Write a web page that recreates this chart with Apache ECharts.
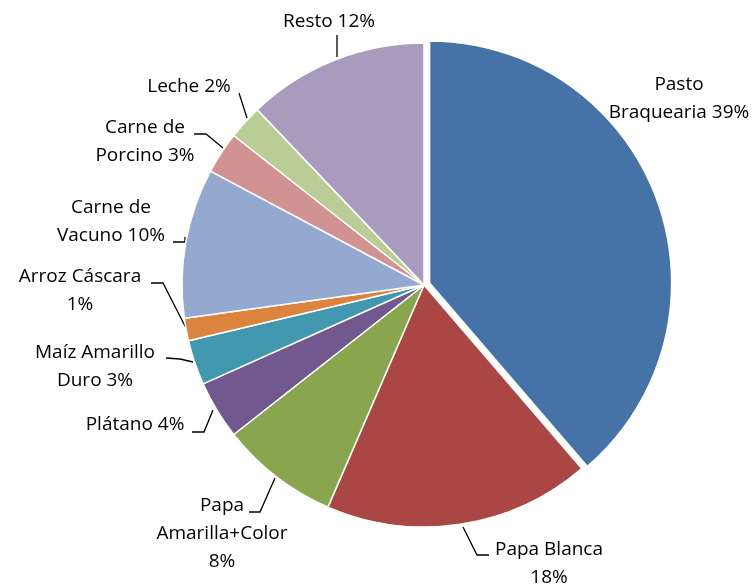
<!DOCTYPE html>
<html><head><meta charset="utf-8">
<script src="https://cdn.jsdelivr.net/npm/echarts@6/dist/echarts.min.js"></script>
<style>html,body{margin:0;padding:0;background:#fff}#c{width:756px;height:585px}</style>
</head><body><div id="c"></div>
<script>
const categories = ['Pasto Braquearia','Papa Blanca','Papa Amarilla+Color','Plátano','Maíz Amarillo Duro','Arroz Cáscara','Carne de Vacuno','Carne de Porcino','Leche','Resto'];
const values = [38.7, 17.8, 7.9, 3.9, 3.0, 1.5, 10.0, 2.8, 2.3, 12.1];
const labelTexts = ['Pasto\nBraquearia 39%','Papa Blanca\n18%','Papa\nAmarilla+Color\n8%','Plátano 4%','Maíz Amarillo\nDuro 3%','Arroz Cáscara\n1%','Carne de\nVacuno 10%','Carne de\nPorcino 3%','Leche 2%','Resto 12%'];
const colors = ['#4572A7','#AA4643','#89A54E','#71588F','#4198AF','#DB843D','#93A9CF','#D19392','#B9CD96','#A99BBD'];
const exploded = 0; // index of the pulled-out slice

// label placement (text centre) and leader-line paths
const layout = [
  {x:679, y:99, line:null},
  {x:549, y:564, line:[[463,527],[477,555],[489,555]]},
  {x:222, y:534, line:[[275,478],[260,512],[249,512]]},
  {x:135, y:425, line:[[213,410],[204,432],[192,432]]},
  {x:95,  y:367, line:[[193,362],[180,359],[166,358]]},
  {x:80,  y:291, line:[[186,328],[163,283],[151,283]]},
  {x:111, y:222, line:[[185,237],[185,242],[173,242]]},
  {x:145, y:142, line:[[223,148],[206,134],[194,134]]},
  {x:189, y:87,  line:[[247,118],[239,93]]},
  {x:329, y:22,  line:[[337,57],[337,35]]}
];

const C = [424, 285], R = 242, OFF = 6;
const total = values.reduce((a,b)=>a+b,0);
const before = values.slice(0, exploded).reduce((a,b)=>a+b,0);
const midDeg = 90 - (before + values[exploded]/2)/total*360;
const C2 = [C[0] + OFF*Math.cos(midDeg*Math.PI/180), C[1] - OFF*Math.sin(midDeg*Math.PI/180)];

const hidden = {color:'rgba(0,0,0,0)', borderWidth:0};
const data1 = categories.map((n,i)=>({
  name:n, value:values[i],
  itemStyle: i===exploded ? hidden : {color:colors[i]},
  label:{formatter: labelTexts[i]},
  labelLine:{show: layout[i].line !== null}
}));
const data2 = categories.map((n,i)=>({
  name:n, value:values[i],
  itemStyle: i===exploded ? {color:colors[i]} : hidden
}));

const font = {color:'#000', fontFamily:'Open Sans', fontSize:19, lineHeight:28, align:'center', overflow:'none'};
const chart = echarts.init(document.getElementById('c'));
chart.setOption({
  animation:false,
  series:[{
    type:'pie', center:C, radius:R, startAngle:90, clockwise:true,
    data:data1,
    itemStyle:{borderColor:'#fff', borderWidth:1.5},
    emphasis:{disabled:true},
    label:Object.assign({show:true, position:'outside'}, font),
    labelLine:{show:true, lineStyle:{color:'#000', width:1.3}},
    labelLayout:function(p){
      const L = layout[p.dataIndex];
      const r = {x:L.x, y:L.y, align:'center', verticalAlign:'middle'};
      if (L.line) r.labelLinePoints = L.line;
      return r;
    }
  },{
    type:'pie', center:C2, radius:R, startAngle:90, clockwise:true,
    data:data2, silent:true,
    itemStyle:{borderColor:'#fff', borderWidth:1.5},
    emphasis:{disabled:true},
    label:{show:false}, labelLine:{show:false}
  }]
});
</script></body></html>
